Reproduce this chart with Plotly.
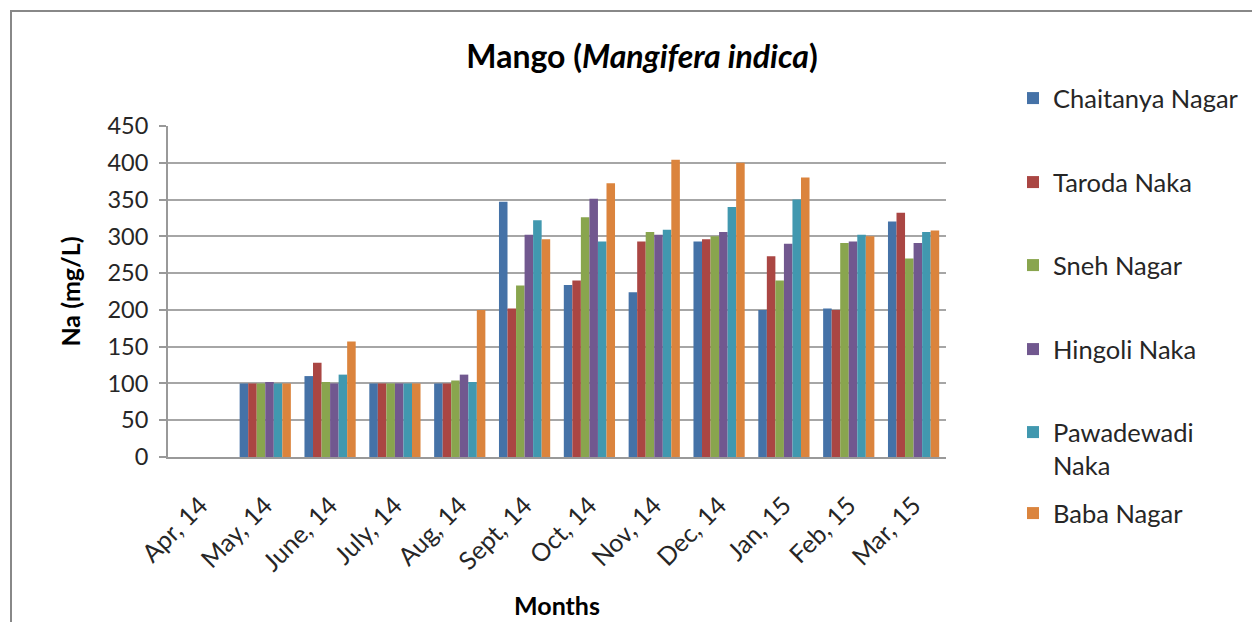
import plotly.graph_objects as go

months = ["Apr, 14", "May, 14", "June, 14", "July, 14", "Aug, 14", "Sept, 14",
          "Oct, 14", "Nov, 14", "Dec, 14", "Jan, 15", "Feb, 15", "Mar, 15"]

chaitanya_nagar = [0, 100, 110, 100, 100, 347, 234, 224, 293, 200, 202, 320]
taroda_naka     = [0, 100, 128, 100, 100, 202, 240, 293, 296, 273, 200, 332]
sneh_nagar      = [0, 100, 102, 100, 104, 233, 326, 306, 300, 240, 291, 270]
hingoli_naka    = [0, 102, 100, 100, 112, 302, 351, 302, 306, 290, 293, 291]
pawadewadi_naka = [0, 100, 112, 100, 102, 322, 293, 309, 340, 350, 302, 306]
baba_nagar      = [0, 100, 157, 100, 200, 296, 372, 404, 400, 380, 300, 308]

series_names = ["Chaitanya Nagar", "Taroda Naka", "Sneh Nagar", "Hingoli Naka",
                "Pawadewadi<br>Naka", "Baba Nagar"]
series_values = [chaitanya_nagar, taroda_naka, sneh_nagar, hingoli_naka,
                 pawadewadi_naka, baba_nagar]
colors = ["#4572A7", "#AA4643", "#89A54E", "#71588F", "#4198AF", "#DB843D"]

FONT = "Lato"
OFF = 8  # page body margin
FW, FH = 1260 - OFF, 622 - OFF

# plot area in reference-image pixels
L, R, T, B = 168, 946, 126, 457
W, H = R - L, B - T

def px_x(p):
    return (p - L) / W

def px_y(p):
    return (B - p) / H

legend_ids = ["legend", "legend2", "legend3", "legend4", "legend5", "legend6"]
legend_text_y = [98, 182, 265, 349, 432, 513]  # centre of first text line

fig = go.Figure()
for i, (name, vals, col) in enumerate(zip(series_names, series_values, colors)):
    fig.add_trace(go.Bar(
        x=months, y=vals, name=name, marker_color=col,
        marker_line_width=0, legend=legend_ids[i],
    ))

layout_legends = {}
for i, lid in enumerate(legend_ids):
    layout_legends[lid] = dict(
        x=px_x(1013), y=px_y(legend_text_y[i] - 23), xanchor="left", yanchor="top",
        font=dict(size=25.5, family=FONT, color="#262626"),
        itemwidth=30, bgcolor="rgba(0,0,0,0)", valign="top",
    )

fig.update_layout(
    width=FW, height=FH,
    paper_bgcolor="white", plot_bgcolor="white",
    margin=dict(l=L - OFF, r=1260 - R, t=T - OFF, b=622 - B, autoexpand=False),
    barmode="group", bargap=0.21, bargroupgap=0,
    font=dict(family=FONT, color="black"),
    title=dict(text="<b>Mango (<i>Mangifera indica</i>)</b>", x=(642 - OFF) / FW,
               xanchor="center", y=1 - (57 - OFF) / FH, yanchor="middle",
               font=dict(size=32, family=FONT, color="black")),
    showlegend=True,
    xaxis=dict(
        tickangle=-45, tickfont=dict(size=25, family=FONT, color="#262626"),
        showline=True, linecolor="#999", linewidth=2,
        title=dict(text="<b>Months</b>", font=dict(size=25, family=FONT), standoff=22),
        ticks="", ticklabelstandoff=22,
    ),
    yaxis=dict(
        range=[0, 450], dtick=50, tickfont=dict(size=23.5, family=FONT, color="#262626"),
        showgrid=True, gridcolor="#A6A6A6", gridwidth=2,
        showline=True, linecolor="#999", linewidth=2, zeroline=False,
        ticks="outside", ticklen=7, tickcolor="#999", tickwidth=2,
        ticklabelstandoff=6,
        title=dict(text="<b>Na (mg/L)</b>", font=dict(size=25, family=FONT), standoff=20),
    ),
    **layout_legends,
)

# outer chart border
fig.add_shape(type="rect", xref="paper", yref="paper",
              x0=px_x(11), x1=px_x(1275), y0=px_y(640), y1=px_y(11),
              line=dict(color="#888", width=2), fillcolor="rgba(0,0,0,0)", layer="below")

fig.write_html("out.html")
